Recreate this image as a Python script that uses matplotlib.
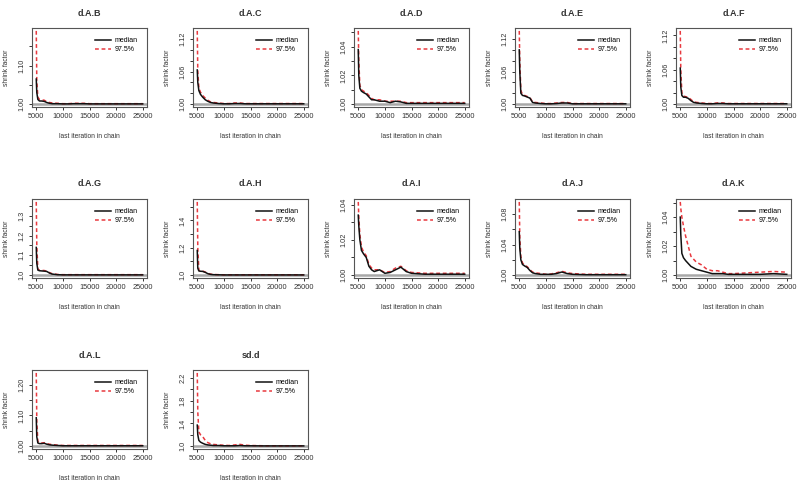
import matplotlib
matplotlib.use("Agg")
import matplotlib.pyplot as plt
import numpy as np

plt.rcParams['font.family'] = ['Liberation Sans', 'DejaVu Sans']

# last iteration in chain
iters = [5000, 5100, 5300, 5600, 6000, 6500, 7000, 7500, 8000, 9000,
         10000, 11000, 12000, 13000, 14000, 15000, 17500, 20000, 22500, 25000]

titles = ['d.A.B', 'd.A.C', 'd.A.D', 'd.A.E', 'd.A.F',
          'd.A.G', 'd.A.H', 'd.A.I', 'd.A.J', 'd.A.K',
          'd.A.L', 'sd.d']

med_AB = [1.065, 1.03, 1.012, 1.008, 1.008, 1.007, 1.004, 1.002, 1.001, 1.001,
          1.0005, 1.0005, 1.001, 1.001, 1.001, 1.0005, 1.0005, 1.0005, 1.0005, 1.0005]
upp_AB = [1.19, 1.06, 1.018, 1.012, 1.011, 1.010, 1.006, 1.004, 1.003, 1.002,
          1.001, 1.001, 1.002, 1.002, 1.002, 1.001, 1.001, 1.001, 1.001, 1.001]
med_AC = [1.063, 1.04, 1.025, 1.018, 1.013, 1.008, 1.005, 1.003, 1.002, 1.001,
          1.0005, 1.0005, 1.001, 1.001, 1.0005, 1.0005, 1.0005, 1.0005, 1.0005, 1.0005]
upp_AC = [1.135, 1.06, 1.03, 1.022, 1.016, 1.011, 1.007, 1.004, 1.003, 1.002,
          1.001, 1.001, 1.002, 1.002, 1.001, 1.001, 1.001, 1.001, 1.001, 1.001]
med_AD = [1.038, 1.02, 1.011, 1.009, 1.008, 1.007, 1.005, 1.003, 1.003, 1.002,
          1.002, 1.001, 1.002, 1.0015, 1.0005, 1.0005, 1.0005, 1.0005, 1.0005, 1.0005]
upp_AD = [1.051, 1.03, 1.013, 1.010, 1.009, 1.008, 1.006, 1.004, 1.003, 1.003,
          1.002, 1.002, 1.002, 1.002, 1.001, 1.001, 1.001, 1.001, 1.001, 1.001]
med_AE = [1.10, 1.06, 1.02, 1.016, 1.015, 1.013, 1.011, 1.003, 1.002, 1.001,
          1.0005, 1.0005, 1.001, 1.002, 1.002, 1.0005, 1.0005, 1.0005, 1.0005, 1.0005]
upp_AE = [1.135, 1.08, 1.025, 1.018, 1.016, 1.014, 1.012, 1.004, 1.003, 1.002,
          1.001, 1.001, 1.002, 1.003, 1.003, 1.001, 1.001, 1.001, 1.001, 1.001]
med_AF = [1.063, 1.03, 1.015, 1.012, 1.012, 1.010, 1.006, 1.003, 1.002, 1.001,
          1.0005, 1.0005, 1.001, 1.001, 1.0005, 1.0005, 1.0005, 1.0005, 1.0005, 1.0005]
upp_AF = [1.128, 1.06, 1.02, 1.014, 1.013, 1.012, 1.008, 1.004, 1.003, 1.002,
          1.001, 1.001, 1.002, 1.002, 1.001, 1.001, 1.001, 1.001, 1.001, 1.001]
med_AG = [1.14, 1.06, 1.025, 1.022, 1.021, 1.02, 1.018, 1.01, 1.005, 1.002,
          1.001, 1.001, 1.001, 1.001, 1.001, 1.001, 1.001, 1.001, 1.001, 1.001]
upp_AG = [1.37, 1.15, 1.03, 1.025, 1.024, 1.023, 1.02, 1.012, 1.007, 1.003,
          1.002, 1.002, 1.002, 1.002, 1.002, 1.002, 1.002, 1.002, 1.002, 1.002]
med_AH = [1.18, 1.05, 1.03, 1.028, 1.027, 1.02, 1.01, 1.005, 1.003, 1.002,
          1.001, 1.001, 1.001, 1.001, 1.001, 1.001, 1.001, 1.001, 1.001, 1.001]
upp_AH = [1.535, 1.2, 1.035, 1.03, 1.03, 1.022, 1.012, 1.007, 1.004, 1.003,
          1.002, 1.002, 1.002, 1.002, 1.002, 1.002, 1.002, 1.002, 1.002, 1.002]
med_AI = [1.034, 1.028, 1.02, 1.014, 1.012, 1.01, 1.005, 1.003, 1.002, 1.003,
          1.001, 1.0015, 1.003, 1.0045, 1.002, 1.001, 1.0005, 1.0005, 1.0005, 1.0005]
upp_AI = [1.0415, 1.033, 1.023, 1.016, 1.013, 1.011, 1.006, 1.004, 1.003, 1.003,
          1.0015, 1.002, 1.004, 1.005, 1.0025, 1.0015, 1.001, 1.001, 1.001, 1.001]
med_AJ = [1.057, 1.035, 1.02, 1.014, 1.012, 1.01, 1.006, 1.003, 1.002, 1.001,
          1.001, 1.001, 1.002, 1.004, 1.002, 1.001, 1.0005, 1.0005, 1.0005, 1.0005]
upp_AJ = [1.096, 1.05, 1.024, 1.016, 1.013, 1.011, 1.007, 1.004, 1.003, 1.002,
          1.001, 1.0015, 1.003, 1.005, 1.003, 1.002, 1.001, 1.001, 1.001, 1.001]
med_AK = [1.04, 1.028, 1.015, 1.012, 1.010, 1.008, 1.006, 1.005, 1.004, 1.003,
          1.002, 1.001, 1.001, 1.001, 1.0005, 1.0005, 1.0005, 1.0005, 1.001, 1.0005]
upp_AK = [1.0505, 1.046, 1.04, 1.034, 1.027, 1.02, 1.013, 1.011, 1.009, 1.007,
          1.004, 1.003, 1.003, 1.002, 1.001, 1.001, 1.0015, 1.002, 1.0025, 1.002]
med_AL = [1.092, 1.03, 1.01, 1.008, 1.008, 1.009, 1.006, 1.004, 1.003, 1.002,
          1.001, 1.001, 1.001, 1.001, 1.001, 1.001, 1.001, 1.001, 1.001, 1.001]
upp_AL = [1.238, 1.08, 1.015, 1.011, 1.01, 1.011, 1.008, 1.006, 1.005, 1.003,
          1.002, 1.002, 1.002, 1.002, 1.002, 1.002, 1.002, 1.002, 1.002, 1.002]
med_sd = [1.37, 1.2, 1.1, 1.07, 1.05, 1.03, 1.02, 1.015, 1.01, 1.01,
          1.005, 1.005, 1.005, 1.01, 1.005, 1.005, 1.003, 1.003, 1.003, 1.003]
upp_sd = [2.29, 1.6, 1.25, 1.2, 1.17, 1.1, 1.06, 1.04, 1.03, 1.02,
          1.015, 1.01, 1.02, 1.03, 1.015, 1.01, 1.005, 1.005, 1.005, 1.005]

medians = [med_AB, med_AC, med_AD, med_AE, med_AF, med_AG,
           med_AH, med_AI, med_AJ, med_AK, med_AL, med_sd]
uppers = [upp_AB, upp_AC, upp_AD, upp_AE, upp_AF, upp_AG,
          upp_AH, upp_AI, upp_AJ, upp_AK, upp_AL, upp_sd]

# y tick step, label every n-th tick, decimals (R style axis)
ytick_step = [0.05, 0.02, 0.01, 0.02, 0.02, 0.05, 0.1, 0.01, 0.02, 0.01, 0.05, 0.2]
ytick_every = [2, 3, 2, 3, 3, 2, 2, 2, 2, 2, 2, 2]
ytick_dec = [2, 2, 2, 2, 2, 1, 1, 2, 2, 2, 2, 1]

W, H = 800, 491
fig = plt.figure(figsize=(W/100, H/100), dpi=100)

for i in range(len(titles)):
    r, c = divmod(i, 5)
    left = 32 + 161*c
    top = 28 + 171*r
    ax = fig.add_axes([left/W, 1-(top+79)/H, 115/W, 79/H])

    ymax = max(max(uppers[i]), max(medians[i]))
    pad = 0.04*(ymax-1)
    ax.axhline(1, color='#a8a8a8', lw=1.8, zorder=1)
    ax.plot(iters, medians[i], color='#111111', lw=1.1, label='median', zorder=3)
    ax.plot(iters, uppers[i], color='#e8393f', lw=1.1, ls=(0, (2.5, 1.8)), label='97.5%', zorder=2)
    ax.set_xlim(5000-800, 25000+800)
    ax.set_ylim(1-pad, ymax+pad)

    step = ytick_step[i]
    ticks = np.arange(0, int((ymax-1)/step+1e-9)+1)*step + 1
    labs = []
    for k, t in enumerate(ticks):
        if k % ytick_every[i] == 0:
            labs.append('%.*f' % (ytick_dec[i], t))
        else:
            labs.append('')
    ax.set_yticks(ticks)
    ax.set_yticklabels(labs, rotation=90, va='center')
    ax.set_xticks([5000, 10000, 15000, 20000, 25000])
    ax.tick_params(length=2.5, width=0.7, labelsize=5.3, pad=2, colors='#333333')
    for s in ax.spines.values():
        s.set_linewidth(0.8)
        s.set_color('#555555')

    ax.set_title(titles[i], fontsize=6.5, fontweight='bold', pad=9, color='#333333')
    ax.set_xlabel('last iteration in chain', fontsize=4.8, labelpad=9, color='#333333')
    ax.set_ylabel('shrink factor', fontsize=4.8, labelpad=6, color='#333333')
    ax.legend(loc='upper right', frameon=False, fontsize=5, handlelength=2.2,
              borderaxespad=0.9, labelspacing=0.3, handletextpad=0.6)

fig.savefig('out.png', dpi=100)
